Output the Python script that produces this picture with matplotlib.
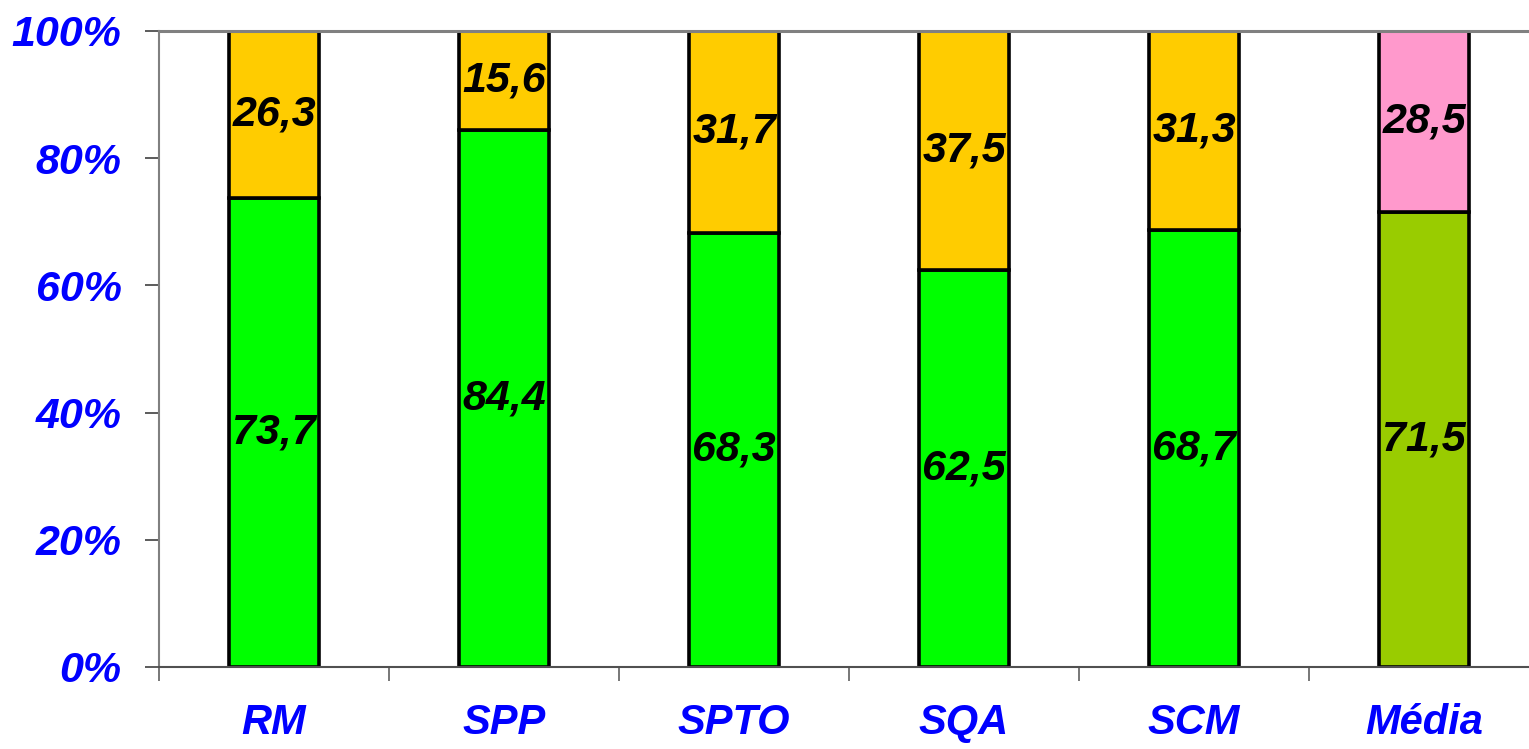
import numpy as np
import matplotlib
matplotlib.use("Agg")
import matplotlib.pyplot as plt
from matplotlib.ticker import FixedLocator

plt.rcParams["font.family"] = ["Liberation Sans", "DejaVu Sans"]

categories = ["RM", "SPP", "SPTO", "SQA", "SCM", "Média"]
bottom_vals = [73.7, 84.4, 68.3, 62.5, 68.7, 71.5]
top_vals = [26.3, 15.6, 31.7, 37.5, 31.3, 28.5]
bottom_colors = ["#00FF00"] * 5 + ["#99CC00"]
top_colors = ["#FFCC00"] * 5 + ["#FF99CC"]
y_ticks = [0, 20, 40, 60, 80, 100]

fig = plt.figure(figsize=(15.29, 7.49), dpi=100)
ax = fig.add_axes([159 / 1529, 82 / 749, 1380 / 1529, 636 / 749])

x = np.arange(len(categories)) + 0.5
width = 0.395

ax.bar(x, bottom_vals, width, color=bottom_colors, edgecolor="black", linewidth=2.6)
ax.bar(x, top_vals, width, bottom=bottom_vals, color=top_colors, edgecolor="black", linewidth=2.6)

label_font = dict(fontsize=31, fontweight="bold", fontstyle="italic", color="black",
                  ha="center", va="center")
for xi, b, t in zip(x, bottom_vals, top_vals):
    ax.text(xi, b / 2, f"{b:.1f}".replace(".", ","), **label_font)
    ax.text(xi, b + t / 2, f"{t:.1f}".replace(".", ","), **label_font)

ax.set_xlim(0, len(categories))
ax.set_ylim(0, 100)

ax.set_yticks(y_ticks)
ax.set_yticklabels([f"{v}%" for v in y_ticks], fontsize=31, fontweight="bold",
                   fontstyle="italic", color="#0000FF")
ax.tick_params(axis="y", direction="out", length=10, width=1.2, color="#404040", pad=17)

ax.xaxis.set_major_locator(FixedLocator(np.arange(len(categories) + 1)))
ax.set_xticklabels([])
ax.xaxis.set_minor_locator(FixedLocator(x))
ax.set_xticklabels(categories, minor=True, fontsize=30, fontweight="bold",
                   fontstyle="italic", color="#0000FF")
ax.tick_params(axis="x", which="major", direction="out", length=10, width=1.2, color="#606060")
ax.tick_params(axis="x", which="minor", length=0, pad=26)

ax.spines["right"].set_visible(False)
ax.spines["top"].set_color("#808080")
ax.spines["top"].set_linewidth(2.2)
ax.spines["left"].set_color("#808080")
ax.spines["left"].set_linewidth(1.5)
ax.spines["bottom"].set_color("#505050")
ax.spines["bottom"].set_linewidth(1.5)

fig.savefig("out.png", dpi=100)
